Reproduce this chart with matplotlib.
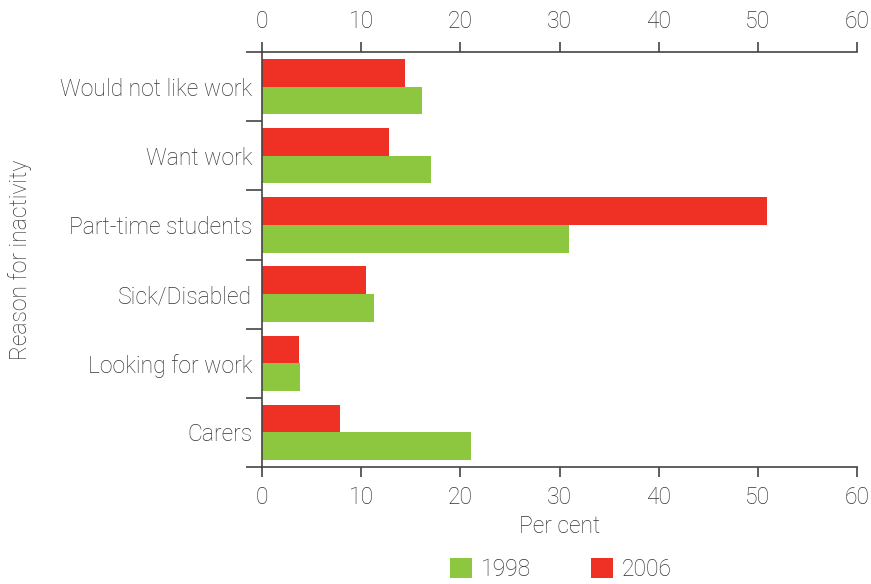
import numpy as np
import matplotlib
matplotlib.use("Agg")
import matplotlib.pyplot as plt

reasons = ["Would not like work", "Want work", "Part-time students",
           "Sick/Disabled", "Looking for work", "Carers"]
vals_1998 = [16.1, 17.0, 31.0, 11.3, 3.8, 21.1]
vals_2006 = [14.4, 12.8, 50.9, 10.5, 3.7, 7.9]

green = "#8DC63F"
red = "#EE3124"
txt = "#333333"

plt.rcParams["font.family"] = ["Roboto", "DejaVu Sans"]
plt.rcParams["font.weight"] = "light"
plt.rcParams["axes.labelweight"] = "light"
fs = 16.5

fig = plt.figure(figsize=(8.71, 5.84), dpi=100)
ax = fig.add_axes([262 / 871, 1 - 467 / 584, (857 - 262) / 871, (467 - 52) / 584])

y = np.arange(len(reasons))
h = 0.4
ax.barh(y + h / 2, vals_1998, height=h, color=green, label="1998")
ax.barh(y - h / 2, vals_2006, height=h, color=red, label="2006")

ax.set_ylim(len(reasons) - 0.5, -0.5)
ax.set_xlim(0, 60)
ax.set_xticks(range(0, 61, 10))
ax.set_yticks(y)
ax.set_yticklabels(reasons, fontsize=fs, color=txt)
ax.set_yticks(np.arange(-0.5, len(reasons)), minor=True)
ax.tick_params(axis="y", which="major", length=0, pad=7)
ax.tick_params(axis="y", which="minor", length=11.5, width=1.2, color="#444444")
ax.tick_params(axis="x", which="major", top=True, labeltop=True, length=7,
               width=1.2, color="#444444", labelsize=fs, labelcolor=txt, pad=7)

for s in ["top", "bottom", "left"]:
    ax.spines[s].set_linewidth(1.2)
    ax.spines[s].set_color("#444444")
ax.spines["right"].set_visible(False)

ax.set_xlabel("Per cent", fontsize=fs, color=txt, labelpad=4, fontweight="light")
ax.set_ylabel("Reason for inactivity", fontsize=fs, color=txt, labelpad=20,
              fontweight="light")

handles, labels = ax.get_legend_handles_labels()
fig.legend(handles, labels, loc="center", bbox_to_anchor=(561 / 871, 1 - 569 / 584),
           ncol=2, frameon=False, fontsize=fs, handlelength=0.95, handleheight=0.95,
           columnspacing=2.6, handletextpad=0.4, labelcolor=txt, borderpad=0)

fig.savefig("out.png", dpi=100)
